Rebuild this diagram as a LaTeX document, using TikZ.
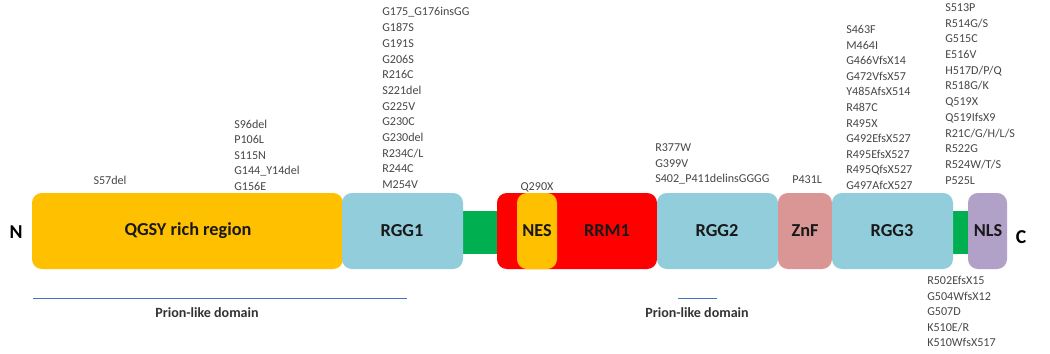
\documentclass[tikz,border=0pt]{standalone}
\usepackage{fontspec}
\setmainfont{Carlito}
\usepackage{tikz}
\usetikzlibrary{positioning}
\definecolor{qgsy}{HTML}{FFC000}
\definecolor{rgg}{HTML}{92CDDC}
\definecolor{lnk}{HTML}{00B050}
\definecolor{rrm}{HTML}{FF0000}
\definecolor{znf}{HTML}{DA9694}
\definecolor{nls}{HTML}{B1A0C7}
\definecolor{pld}{HTML}{4472C4}

\begin{document}
\begin{tikzpicture}[x=0.025cm, y=-0.025cm]
  \tikzset{
    dom/.style={rounded corners=7pt},
    dlbl/.style={font=\fontsize{13}{15}\selectfont\bfseries, text=black!90, inner sep=0pt},
    mut/.style={font=\fontsize{8.6}{9}\selectfont, text=black!72, anchor=base west, inner sep=0pt},
    term/.style={font=\fontsize{14}{16}\selectfont\bfseries, text=black, inner sep=0pt},
    prion/.style={font=\fontsize{10}{12}\selectfont\bfseries, text=black!80, inner sep=0pt},
    pline/.style={draw=pld, line width=0.6pt}
  }
  \useasboundingbox (0,0) rectangle (1050,354);

  % - Linkers ---
  \fill[lnk] (455,211) rectangle (505,254);
  \fill[lnk] (945,211) rectangle (975,254);

  % - Domains ---
  \fill[dom, qgsy] (32,193) rectangle (343,269);
  \fill[dom, rgg] (342,193) rectangle (463,269);
  \fill[dom, rrm] (497,193) rectangle (657,269);
  \fill[dom, qgsy] (517,193) rectangle (557,269);
  \fill[dom, rgg] (657,193) rectangle (778,269);
  \fill[dom, znf] (778,193) rectangle (832,269);
  \fill[dom, rgg] (832,193) rectangle (953,269);
  \fill[dom, nls] (968,193) rectangle (1007,269);

  \node[dlbl] (qgsyl) at (188,231) {QGSY rich region};
  \node[dlbl] (rgg1l) at (402,231) {RGG1};
  \node[dlbl] (nesl) at (537,231) {NES};
  \node[dlbl] (rrm1l) at (607,231) {RRM1};
  \node[dlbl] (rgg2l) at (717,231) {RGG2};
  \node[dlbl] (znfl) at (805,231) {ZnF};
  \node[dlbl] (rgg3l) at (892,231) {RGG3};
  \node[dlbl] (nlsl) at (988,231) {NLS};

  \node[term] (nterm) at (16,232) {N};
  \node[term] (cterm) at (1021,237) {C};

  % - Mutations above ---
  \node[mut, anchor=base] (m1) at (110,184.5) {S57del};
  \foreach \m [count=\i] in {S96del,P106L,S115N,G144\_Y14del,G156E}
    \node[mut] (m2-\i) at (234,{128.5+(\i-1)*15.5}) {\m};
  \foreach \m [count=\i] in {G175\_G176insGG,G187S,G191S,G206S,R216C,S221del,G225V,G230C,G230del,R234C/L,R244C,M254V}
    \node[mut] (m3-\i) at (382,{16+(\i-1)*15.7}) {\m};
  \node[mut, anchor=base] (m4) at (537,190.5) {Q290X};
  \foreach \m [count=\i] in {R377W,G399V,S402\_P411delinsGGGG}
    \node[mut] (m5-\i) at (655,{151.5+(\i-1)*15.5}) {\m};
  \node[mut] (m6) at (792,183.5) {P431L};
  \foreach \m [count=\i] in {S463F,M464I,G466VfsX14,G472VfsX57,Y485AfsX514,R487C,R495X,G492EfsX527,R495EfsX527,R495QfsX527,G497AfcX527}
    \node[mut] (m7-\i) at (846,{33.5+(\i-1)*15.6}) {\m};
  \foreach \m [count=\i] in {S513P,R514G/S,G515C,E516V,H517D/P/Q,R518G/K,Q519X,Q519IfsX9,R21C/G/H/L/S,R522G,R524W/T/S,P525L}
    \node[mut] (m8-\i) at (945,{11.5+(\i-1)*15.7}) {\m};

  % - Mutations below ---
  \foreach \m [count=\i] in {R502EfsX15,G504WfsX12,G507D,K510E/R,K510WfsX517}
    \node[mut] (m9-\i) at (927,{284.5+(\i-1)*15.5}) {\m};

  % - Prion-like domains ---
  \coordinate (p1a) at (33,298);
  \coordinate (p1b) at (407,298);
  \draw[pline] (p1a) -- (p1b);
  \node[prion] (p1) at (207,313) {Prion-like domain};
  \coordinate (p2a) at (678,298);
  \coordinate (p2b) at (717,298);
  \draw[pline] (p2a) -- (p2b);
  \node[prion] (p2) at (697,313) {Prion-like domain};

\end{tikzpicture}
\end{document}
